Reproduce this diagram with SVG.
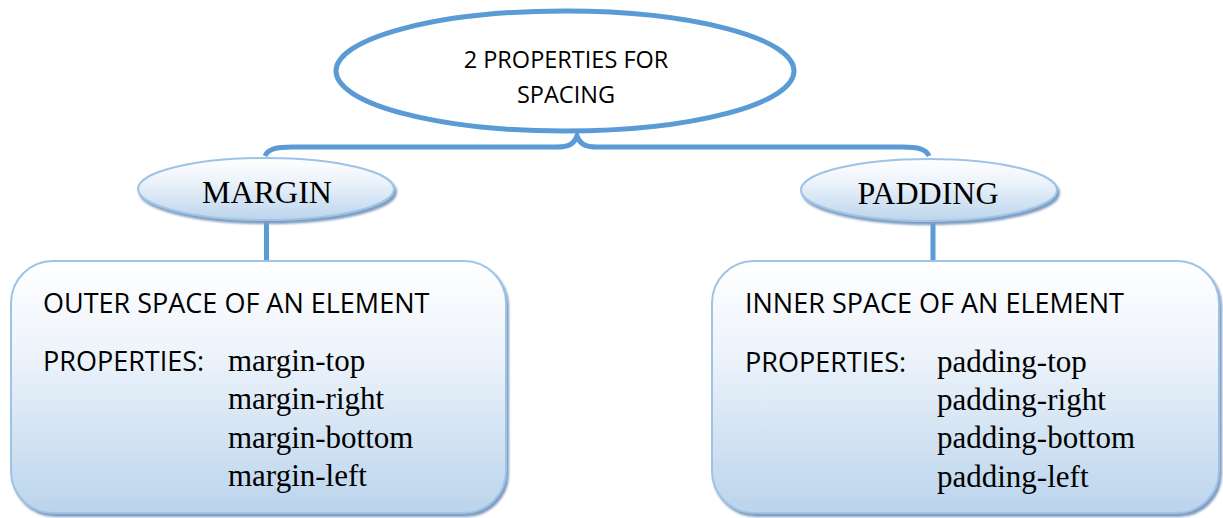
<svg xmlns="http://www.w3.org/2000/svg" width="1223" height="518" viewBox="0 0 1223 518">
<defs>
<linearGradient id="g" x1="0" y1="0" x2="0" y2="1">
<stop offset="0" stop-color="#FFFFFF"/>
<stop offset="0.35" stop-color="#EEF4FB"/>
<stop offset="1" stop-color="#BBD4EC"/>
</linearGradient>
<filter id="sh" x="-10%" y="-10%" width="120%" height="130%">
<feGaussianBlur in="SourceAlpha" stdDeviation="1"/>
<feOffset dx="2" dy="3" result="b"/>
<feFlood flood-color="#7F9CC0"/>
<feComposite in2="b" operator="in"/>
<feMerge><feMergeNode/><feMergeNode in="SourceGraphic"/></feMerge>
</filter>
</defs>
<style>
.conn{fill:none;stroke:#5B9BD5;stroke-width:5}
.sub{fill:url(#g);stroke:#9DC3E6;stroke-width:2;filter:url(#sh)}
.sans{font-family:"Open Sans","Liberation Sans",sans-serif;fill:#000}
.serif{font-family:"Liberation Serif","Times New Roman",serif;fill:#000}
</style>
<rect width="1223" height="518" fill="#FFFFFF"/>
<g id="connectors">
<path class="conn" d="M265,156 C268,149 276,147 292,147 L557,147 C569,147 574,144 577,136 C580,144 585,147 597,147 L902,147 C918,147 926,149 929,156"/>
<line class="conn" x1="266.5" y1="220" x2="266.5" y2="262"/>
<line class="conn" x1="933" y1="221" x2="933" y2="262"/>
</g>
<g id="root">
<ellipse cx="565" cy="71" rx="229" ry="60" fill="#FFFFFF" stroke="#5B9BD5" stroke-width="5"/>
<text class="sans" x="566" y="68" font-size="23.5" text-anchor="middle">2 PROPERTIES FOR</text>
<text class="sans" x="566" y="103" font-size="23.5" text-anchor="middle">SPACING</text>
</g>
<g id="margin">
<ellipse class="sub" cx="266" cy="189" rx="128" ry="31"/>
<text class="serif" x="267" y="203" font-size="32" text-anchor="middle">MARGIN</text>
</g>
<g id="padding">
<ellipse class="sub" cx="929" cy="190" rx="128" ry="31"/>
<text class="serif" x="928" y="204" font-size="32" text-anchor="middle">PADDING</text>
</g>
<g id="margin-box">
<rect class="sub" x="11" y="261" width="495" height="252" rx="42" ry="42"/>
<text class="sans" x="43" y="313" font-size="27">OUTER SPACE OF AN ELEMENT</text>
<text class="sans" x="43" y="371" font-size="27">PROPERTIES:</text>
<text class="serif" x="228" y="371" font-size="31">margin-top</text>
<text class="serif" x="228" y="409" font-size="31">margin-right</text>
<text class="serif" x="228" y="448" font-size="31">margin-bottom</text>
<text class="serif" x="228" y="486" font-size="31">margin-left</text>
</g>
<g id="padding-box">
<rect class="sub" x="712" y="261" width="507" height="252" rx="42" ry="42"/>
<text class="sans" x="745" y="313" font-size="27">INNER SPACE OF AN ELEMENT</text>
<text class="sans" x="745" y="372" font-size="27">PROPERTIES:</text>
<text class="serif" x="937" y="372" font-size="31">padding-top</text>
<text class="serif" x="937" y="410" font-size="31">padding-right</text>
<text class="serif" x="937" y="448" font-size="31">padding-bottom</text>
<text class="serif" x="937" y="487" font-size="31">padding-left</text>
</g>
</svg>
